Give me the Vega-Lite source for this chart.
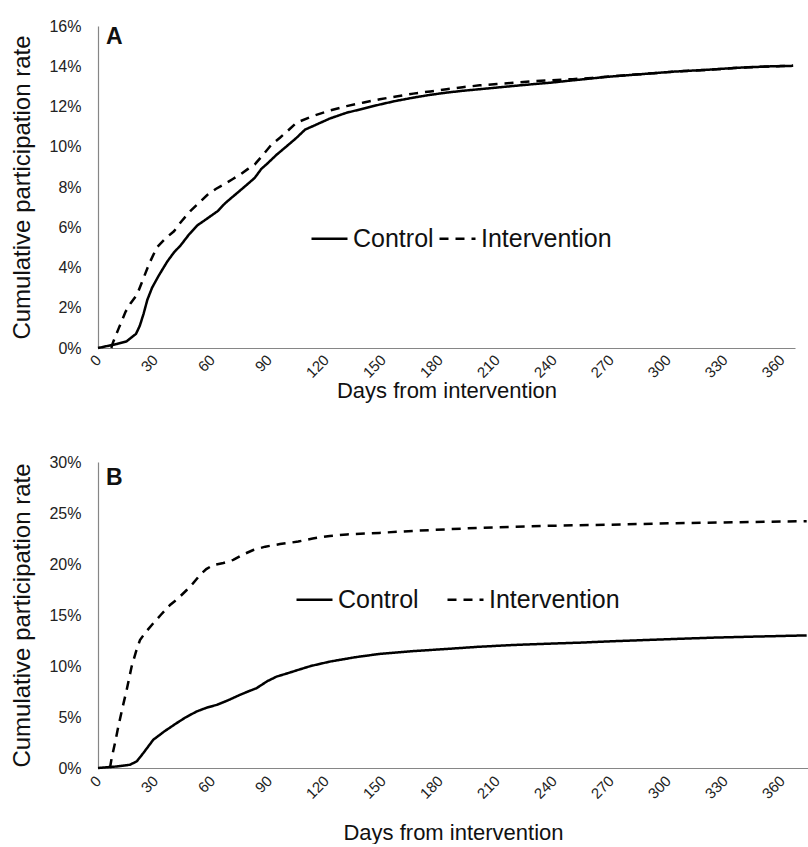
{
  "$schema": "https://vega.github.io/schema/vega-lite/v6.json",
  "padding": {"left": 10, "top": 18, "right": 0, "bottom": 0},
  "background": "white",
  "config": {
    "font": "Liberation Sans",
    "view": {"stroke": null},
    "axis": {
      "grid": false,
      "ticks": false,
      "domainColor": "#868686",
      "domainWidth": 1.2,
      "labelColor": "#222222",
      "labelFont": "Liberation Sans",
      "titleFont": "Liberation Sans",
      "titleColor": "#111111",
      "titleFontWeight": "normal",
      "titleFontSize": 24
    },
    "legend": {
      "labelFont": "Liberation Sans",
      "labelColor": "#111111"
    }
  },
  "data": {
    "values": [
      {"panel": "A", "group": "Control", "day": 0, "rate": 0},
      {"panel": "A", "group": "Control", "day": 5, "rate": 0.1},
      {"panel": "A", "group": "Control", "day": 10, "rate": 0.2},
      {"panel": "A", "group": "Control", "day": 15, "rate": 0.33},
      {"panel": "A", "group": "Control", "day": 20, "rate": 0.7},
      {"panel": "A", "group": "Control", "day": 22, "rate": 1.1},
      {"panel": "A", "group": "Control", "day": 24, "rate": 1.7},
      {"panel": "A", "group": "Control", "day": 26, "rate": 2.4},
      {"panel": "A", "group": "Control", "day": 28.5, "rate": 3.0},
      {"panel": "A", "group": "Control", "day": 32, "rate": 3.6},
      {"panel": "A", "group": "Control", "day": 36.5, "rate": 4.3},
      {"panel": "A", "group": "Control", "day": 40, "rate": 4.75},
      {"panel": "A", "group": "Control", "day": 43.5, "rate": 5.1},
      {"panel": "A", "group": "Control", "day": 48, "rate": 5.65},
      {"panel": "A", "group": "Control", "day": 52.4, "rate": 6.1},
      {"panel": "A", "group": "Control", "day": 57, "rate": 6.4},
      {"panel": "A", "group": "Control", "day": 63, "rate": 6.8},
      {"panel": "A", "group": "Control", "day": 67, "rate": 7.2},
      {"panel": "A", "group": "Control", "day": 72, "rate": 7.6},
      {"panel": "A", "group": "Control", "day": 77, "rate": 8.0},
      {"panel": "A", "group": "Control", "day": 82.5, "rate": 8.45},
      {"panel": "A", "group": "Control", "day": 86, "rate": 8.9},
      {"panel": "A", "group": "Control", "day": 89, "rate": 9.15},
      {"panel": "A", "group": "Control", "day": 94, "rate": 9.6},
      {"panel": "A", "group": "Control", "day": 98.4, "rate": 9.95},
      {"panel": "A", "group": "Control", "day": 104.6, "rate": 10.45},
      {"panel": "A", "group": "Control", "day": 109, "rate": 10.85},
      {"panel": "A", "group": "Control", "day": 113.3, "rate": 11.03},
      {"panel": "A", "group": "Control", "day": 122, "rate": 11.4},
      {"panel": "A", "group": "Control", "day": 130.9, "rate": 11.69},
      {"panel": "A", "group": "Control", "day": 140, "rate": 11.9},
      {"panel": "A", "group": "Control", "day": 148.4, "rate": 12.1},
      {"panel": "A", "group": "Control", "day": 157, "rate": 12.28},
      {"panel": "A", "group": "Control", "day": 166, "rate": 12.44},
      {"panel": "A", "group": "Control", "day": 175, "rate": 12.58},
      {"panel": "A", "group": "Control", "day": 183.5, "rate": 12.69},
      {"panel": "A", "group": "Control", "day": 192, "rate": 12.78},
      {"panel": "A", "group": "Control", "day": 201, "rate": 12.86},
      {"panel": "A", "group": "Control", "day": 210, "rate": 12.94},
      {"panel": "A", "group": "Control", "day": 218.6, "rate": 13.02},
      {"panel": "A", "group": "Control", "day": 228, "rate": 13.1},
      {"panel": "A", "group": "Control", "day": 238, "rate": 13.18},
      {"panel": "A", "group": "Control", "day": 250, "rate": 13.3},
      {"panel": "A", "group": "Control", "day": 267.7, "rate": 13.47},
      {"panel": "A", "group": "Control", "day": 285, "rate": 13.6},
      {"panel": "A", "group": "Control", "day": 302.8, "rate": 13.73},
      {"panel": "A", "group": "Control", "day": 320, "rate": 13.82},
      {"panel": "A", "group": "Control", "day": 337.9, "rate": 13.93},
      {"panel": "A", "group": "Control", "day": 355.4, "rate": 14.0},
      {"panel": "A", "group": "Control", "day": 366, "rate": 14.02},

      {"panel": "A", "group": "Intervention", "day": 7, "rate": 0.0},
      {"panel": "A", "group": "Intervention", "day": 8, "rate": 0.3},
      {"panel": "A", "group": "Intervention", "day": 11, "rate": 1.0},
      {"panel": "A", "group": "Intervention", "day": 14.5, "rate": 1.8},
      {"panel": "A", "group": "Intervention", "day": 17, "rate": 2.2},
      {"panel": "A", "group": "Intervention", "day": 20.6, "rate": 2.66},
      {"panel": "A", "group": "Intervention", "day": 24, "rate": 3.48},
      {"panel": "A", "group": "Intervention", "day": 27, "rate": 4.2},
      {"panel": "A", "group": "Intervention", "day": 31, "rate": 5.0},
      {"panel": "A", "group": "Intervention", "day": 35, "rate": 5.4},
      {"panel": "A", "group": "Intervention", "day": 40, "rate": 5.8},
      {"panel": "A", "group": "Intervention", "day": 44, "rate": 6.3},
      {"panel": "A", "group": "Intervention", "day": 48.6, "rate": 6.8},
      {"panel": "A", "group": "Intervention", "day": 53, "rate": 7.2},
      {"panel": "A", "group": "Intervention", "day": 57.5, "rate": 7.6},
      {"panel": "A", "group": "Intervention", "day": 62, "rate": 7.9},
      {"panel": "A", "group": "Intervention", "day": 66.3, "rate": 8.13},
      {"panel": "A", "group": "Intervention", "day": 71, "rate": 8.4},
      {"panel": "A", "group": "Intervention", "day": 75, "rate": 8.63},
      {"panel": "A", "group": "Intervention", "day": 79, "rate": 8.9},
      {"panel": "A", "group": "Intervention", "day": 82.5, "rate": 9.12},
      {"panel": "A", "group": "Intervention", "day": 86, "rate": 9.5},
      {"panel": "A", "group": "Intervention", "day": 91.3, "rate": 10.1},
      {"panel": "A", "group": "Intervention", "day": 95.8, "rate": 10.45},
      {"panel": "A", "group": "Intervention", "day": 100, "rate": 10.8},
      {"panel": "A", "group": "Intervention", "day": 104.6, "rate": 11.2},
      {"panel": "A", "group": "Intervention", "day": 113.3, "rate": 11.53},
      {"panel": "A", "group": "Intervention", "day": 122, "rate": 11.8},
      {"panel": "A", "group": "Intervention", "day": 130.9, "rate": 12.02},
      {"panel": "A", "group": "Intervention", "day": 140, "rate": 12.2},
      {"panel": "A", "group": "Intervention", "day": 148.4, "rate": 12.36},
      {"panel": "A", "group": "Intervention", "day": 157, "rate": 12.5},
      {"panel": "A", "group": "Intervention", "day": 166, "rate": 12.64},
      {"panel": "A", "group": "Intervention", "day": 175, "rate": 12.75},
      {"panel": "A", "group": "Intervention", "day": 183.5, "rate": 12.86},
      {"panel": "A", "group": "Intervention", "day": 192, "rate": 12.96},
      {"panel": "A", "group": "Intervention", "day": 201, "rate": 13.05},
      {"panel": "A", "group": "Intervention", "day": 210, "rate": 13.12},
      {"panel": "A", "group": "Intervention", "day": 218.6, "rate": 13.18},
      {"panel": "A", "group": "Intervention", "day": 228, "rate": 13.25},
      {"panel": "A", "group": "Intervention", "day": 238, "rate": 13.3},
      {"panel": "A", "group": "Intervention", "day": 250, "rate": 13.36},
      {"panel": "A", "group": "Intervention", "day": 260, "rate": 13.42},
      {"panel": "A", "group": "Intervention", "day": 270, "rate": 13.5},
      {"panel": "A", "group": "Intervention", "day": 285, "rate": 13.6},
      {"panel": "A", "group": "Intervention", "day": 302.8, "rate": 13.73},
      {"panel": "A", "group": "Intervention", "day": 320, "rate": 13.82},
      {"panel": "A", "group": "Intervention", "day": 337.9, "rate": 13.93},
      {"panel": "A", "group": "Intervention", "day": 355.4, "rate": 14.0},
      {"panel": "A", "group": "Intervention", "day": 366, "rate": 14.02},

      {"panel": "B", "group": "Control", "day": 0, "rate": 0},
      {"panel": "B", "group": "Control", "day": 5, "rate": 0.08},
      {"panel": "B", "group": "Control", "day": 10, "rate": 0.15},
      {"panel": "B", "group": "Control", "day": 16.8, "rate": 0.32},
      {"panel": "B", "group": "Control", "day": 20.4, "rate": 0.65},
      {"panel": "B", "group": "Control", "day": 24, "rate": 1.5},
      {"panel": "B", "group": "Control", "day": 29.1, "rate": 2.77},
      {"panel": "B", "group": "Control", "day": 35, "rate": 3.6},
      {"panel": "B", "group": "Control", "day": 41.4, "rate": 4.4},
      {"panel": "B", "group": "Control", "day": 46, "rate": 4.95},
      {"panel": "B", "group": "Control", "day": 51.9, "rate": 5.54},
      {"panel": "B", "group": "Control", "day": 57, "rate": 5.9},
      {"panel": "B", "group": "Control", "day": 62.5, "rate": 6.19},
      {"panel": "B", "group": "Control", "day": 68, "rate": 6.6},
      {"panel": "B", "group": "Control", "day": 74.7, "rate": 7.17},
      {"panel": "B", "group": "Control", "day": 79, "rate": 7.5},
      {"panel": "B", "group": "Control", "day": 83.5, "rate": 7.83},
      {"panel": "B", "group": "Control", "day": 89, "rate": 8.5},
      {"panel": "B", "group": "Control", "day": 94, "rate": 8.96},
      {"panel": "B", "group": "Control", "day": 100, "rate": 9.3},
      {"panel": "B", "group": "Control", "day": 105.4, "rate": 9.62},
      {"panel": "B", "group": "Control", "day": 112, "rate": 10.0},
      {"panel": "B", "group": "Control", "day": 122, "rate": 10.43},
      {"panel": "B", "group": "Control", "day": 135, "rate": 10.85},
      {"panel": "B", "group": "Control", "day": 148, "rate": 11.18},
      {"panel": "B", "group": "Control", "day": 165, "rate": 11.45},
      {"panel": "B", "group": "Control", "day": 183.5, "rate": 11.67},
      {"panel": "B", "group": "Control", "day": 200, "rate": 11.88},
      {"panel": "B", "group": "Control", "day": 218.6, "rate": 12.06},
      {"panel": "B", "group": "Control", "day": 236, "rate": 12.18},
      {"panel": "B", "group": "Control", "day": 253.7, "rate": 12.29},
      {"panel": "B", "group": "Control", "day": 270, "rate": 12.42},
      {"panel": "B", "group": "Control", "day": 288.8, "rate": 12.55},
      {"panel": "B", "group": "Control", "day": 305, "rate": 12.66},
      {"panel": "B", "group": "Control", "day": 323.8, "rate": 12.78},
      {"panel": "B", "group": "Control", "day": 345, "rate": 12.88},
      {"panel": "B", "group": "Control", "day": 373, "rate": 13.0},

      {"panel": "B", "group": "Intervention", "day": 6.3, "rate": 0},
      {"panel": "B", "group": "Intervention", "day": 7.2, "rate": 0.98},
      {"panel": "B", "group": "Intervention", "day": 9, "rate": 2.5},
      {"panel": "B", "group": "Intervention", "day": 10.7, "rate": 4.07},
      {"panel": "B", "group": "Intervention", "day": 13, "rate": 6.0},
      {"panel": "B", "group": "Intervention", "day": 15.1, "rate": 7.66},
      {"panel": "B", "group": "Intervention", "day": 17.7, "rate": 9.94},
      {"panel": "B", "group": "Intervention", "day": 20, "rate": 11.4},
      {"panel": "B", "group": "Intervention", "day": 22.1, "rate": 12.55},
      {"panel": "B", "group": "Intervention", "day": 25, "rate": 13.3},
      {"panel": "B", "group": "Intervention", "day": 29.1, "rate": 14.19},
      {"panel": "B", "group": "Intervention", "day": 33, "rate": 15.0},
      {"panel": "B", "group": "Intervention", "day": 37.9, "rate": 15.98},
      {"panel": "B", "group": "Intervention", "day": 42, "rate": 16.6},
      {"panel": "B", "group": "Intervention", "day": 46.7, "rate": 17.45},
      {"panel": "B", "group": "Intervention", "day": 50, "rate": 18.1},
      {"panel": "B", "group": "Intervention", "day": 53.7, "rate": 18.92},
      {"panel": "B", "group": "Intervention", "day": 57, "rate": 19.5},
      {"panel": "B", "group": "Intervention", "day": 60.7, "rate": 19.9},
      {"panel": "B", "group": "Intervention", "day": 66, "rate": 20.1},
      {"panel": "B", "group": "Intervention", "day": 71.2, "rate": 20.4},
      {"panel": "B", "group": "Intervention", "day": 76, "rate": 20.9},
      {"panel": "B", "group": "Intervention", "day": 81.7, "rate": 21.37},
      {"panel": "B", "group": "Intervention", "day": 88, "rate": 21.7},
      {"panel": "B", "group": "Intervention", "day": 95.8, "rate": 21.95},
      {"panel": "B", "group": "Intervention", "day": 105.4, "rate": 22.2},
      {"panel": "B", "group": "Intervention", "day": 113, "rate": 22.5},
      {"panel": "B", "group": "Intervention", "day": 122, "rate": 22.75},
      {"panel": "B", "group": "Intervention", "day": 131, "rate": 22.9},
      {"panel": "B", "group": "Intervention", "day": 148, "rate": 23.05},
      {"panel": "B", "group": "Intervention", "day": 166, "rate": 23.25},
      {"panel": "B", "group": "Intervention", "day": 183.5, "rate": 23.4},
      {"panel": "B", "group": "Intervention", "day": 201, "rate": 23.55},
      {"panel": "B", "group": "Intervention", "day": 218.6, "rate": 23.65},
      {"panel": "B", "group": "Intervention", "day": 238, "rate": 23.75},
      {"panel": "B", "group": "Intervention", "day": 268, "rate": 23.85},
      {"panel": "B", "group": "Intervention", "day": 303, "rate": 24.0},
      {"panel": "B", "group": "Intervention", "day": 338, "rate": 24.1},
      {"panel": "B", "group": "Intervention", "day": 373, "rate": 24.2}
    ]
  },
  "resolve": {"legend": {"strokeDash": "independent"}},
  "spacing": 52,
  "vconcat": [
    {
      "title": {"text": "A", "anchor": "start", "frame": "group", "fontSize": 23, "fontWeight": "bold", "baseline": "top", "offset": 0, "dx": 8, "dy": 31, "color": "#111111"},
      "width": 697,
      "height": 322,
      "transform": [{"filter": "datum.panel == 'A'"}],
      "mark": {"type": "line", "color": "black", "strokeWidth": 2.5},
      "encoding": {
        "x": {
          "field": "day", "type": "quantitative",
          "scale": {"domain": [0, 367], "nice": false, "zero": false},
          "axis": {"values": [0, 30, 60, 90, 120, 150, 180, 210, 240, 270, 300, 330, 360], "title": "Days from intervention", "titleFontSize": 22, "labelAngle": -45, "labelAlign": "right", "labelBaseline": "middle", "labelFontSize": 15, "labelPadding": 9, "titlePadding": 0}
        },
        "y": {
          "field": "rate", "type": "quantitative",
          "scale": {"domain": [0, 16], "nice": false},
          "axis": {"values": [0, 2, 4, 6, 8, 10, 12, 14, 16], "labelExpr": "datum.value + '%'", "title": "Cumulative participation rate", "labelFontSize": 16, "labelPadding": 17, "titlePadding": 14}
        },
        "strokeDash": {
          "field": "group", "type": "nominal",
          "scale": {"domain": ["Control", "Intervention"], "range": [[1, 0], [9, 7]]},
          "legend": {"orient": "none", "legendX": 212, "legendY": 193, "direction": "horizontal", "title": null, "symbolType": "stroke", "symbolSize": 1296, "symbolStrokeWidth": 2.5, "symbolStrokeColor": "black", "labelFontSize": 25, "columnPadding": 0, "labelOffset": 4}
        }
      }
    },
    {
      "title": {"text": "B", "anchor": "start", "frame": "group", "fontSize": 23, "fontWeight": "bold", "baseline": "top", "offset": 0, "dx": 8, "dy": 36, "color": "#111111"},
      "width": 710,
      "height": 306,
      "transform": [{"filter": "datum.panel == 'B'"}],
      "mark": {"type": "line", "color": "black", "strokeWidth": 2.5},
      "encoding": {
        "x": {
          "field": "day", "type": "quantitative",
          "scale": {"domain": [0, 373.7], "nice": false, "zero": false},
          "axis": {"values": [0, 30, 60, 90, 120, 150, 180, 210, 240, 270, 300, 330, 360], "title": "Days from intervention", "titleFontSize": 22, "labelAngle": -45, "labelAlign": "right", "labelBaseline": "middle", "labelFontSize": 15, "labelPadding": 10, "titlePadding": 21}
        },
        "y": {
          "field": "rate", "type": "quantitative",
          "scale": {"domain": [0, 30], "nice": false},
          "axis": {"values": [0, 5, 10, 15, 20, 25, 30], "labelExpr": "datum.value + '%'", "title": "Cumulative participation rate", "labelFontSize": 16, "labelPadding": 17, "titlePadding": 14}
        },
        "strokeDash": {
          "field": "group", "type": "nominal",
          "scale": {"domain": ["Control", "Intervention"], "range": [[1, 0], [9, 7]]},
          "legend": {"orient": "none", "legendX": 197, "legendY": 118, "direction": "horizontal", "title": null, "symbolType": "stroke", "symbolSize": 1296, "symbolStrokeWidth": 2.5, "symbolStrokeColor": "black", "labelFontSize": 25, "columnPadding": 23, "labelOffset": 4}
        }
      }
    }
  ]
}
